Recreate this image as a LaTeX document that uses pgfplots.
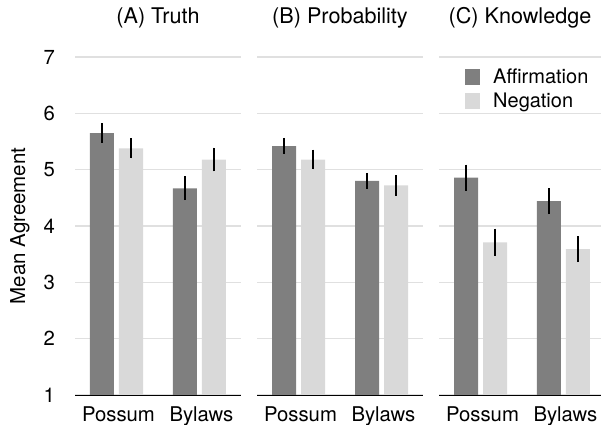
\documentclass[border=0pt]{standalone}
\usepackage{fontspec}
\setmainfont{TeX Gyre Heros}
\usepackage{pgfplots}
\pgfplotsset{compat=1.18}
\definecolor{affc}{RGB}{127,127,127}
\definecolor{negc}{RGB}{217,217,217}
\definecolor{gridc}{RGB}{224,224,224}
\pgfplotsset{
  panel/.style={
    scale only axis,
    width=166bp, height=338bp,
    anchor=south west,
    xmin=0.5, xmax=2.5, ymin=1, ymax=7,
    ybar, bar width=24bp,
    xtick={1,2}, xticklabels={Possum,Bylaws},
    ytick={1,2,3,4,5,6,7},
    ymajorgrids, grid style={gridc, line width=1.2bp},
    axis lines*=left, axis line style={-},
    y axis line style={draw=none},
    x axis line style={black, line width=1bp},
    major tick length=0pt,
    tick style={draw=none},
    /pgf/number format/assume math mode=true,
    font=\fontsize{20.3bp}{24bp}\selectfont,
    ticklabel style={font=\fontsize{20.3bp}{24bp}\selectfont},
    xticklabel style={inner sep=0pt, anchor=base, yshift=-26.7bp, xshift=2bp, font=\fontsize{20.3bp}{24bp}\selectfont},
    yticklabel style={inner sep=0pt, anchor=east, xshift=-20bp},
    title style={at={(axis description cs:0.5,1)}, anchor=base, yshift=28bp, inner sep=0pt, font=\fontsize{21.6bp}{25bp}\selectfont},
    error bars/y dir=both, error bars/y explicit,
    error bars/error mark=none,
    error bars/error bar style={black, line width=1.6bp},
  },
  aff/.style={fill=affc, draw=none, bar shift=-14.5bp},
  neg/.style={fill=negc, draw=none, bar shift=14.5bp},
}
\begin{document}
\begin{tikzpicture}
\useasboundingbox (0,0) rectangle (601bp,425bp);
% (A) Truth
\begin{axis}[panel, at={(75bp,30bp)}, title={(A) Truth},
  ylabel={Mean Agreement},
  ylabel style={at={(axis description cs:-0.3012,0.5)}, anchor=base, rotate=0, inner sep=0pt, font=\fontsize{20.5bp}{24bp}\selectfont}]
\addplot[aff] coordinates {(1,5.65) +- (0,0.17) (2,4.67) +- (0,0.21)};
\addplot[neg] coordinates {(1,5.38) +- (0,0.18) (2,5.18) +- (0,0.21)};
\end{axis}
% (B) Probability
\begin{axis}[panel, at={(257bp,30bp)}, title={(B) Probability}, yticklabels={}]
\addplot[aff] coordinates {(1,5.42) +- (0,0.145) (2,4.80) +- (0,0.145)};
\addplot[neg] coordinates {(1,5.18) +- (0,0.175) (2,4.72) +- (0,0.18)};
\end{axis}
% (C) Knowledge
\begin{axis}[panel, at={(439bp,30bp)}, width=162bp, xmax=2.452, title={(C) Knowledge}, yticklabels={},
  legend style={at={(axis description cs:0.1605,0.9695)}, anchor=north west, draw=none, fill=none, inner sep=0pt,
    nodes={inner sep=0pt, text height=16bp, text depth=8bp}, row sep=0pt,
    font=\fontsize{20bp}{24bp}\selectfont,
    /tikz/every odd column/.append style={column sep=13bp}},
  legend cell align=left,
  legend image code/.code={\fill[#1] (0bp,-5.2bp) rectangle (15bp,10.8bp);}]
\addplot[aff] coordinates {(1,4.86) +- (0,0.23) (2,4.44) +- (0,0.23)};
\addplot[neg] coordinates {(1,3.71) +- (0,0.245) (2,3.59) +- (0,0.23)};
\legend{Affirmation,Negation}
\end{axis}
\end{tikzpicture}
\end{document}
